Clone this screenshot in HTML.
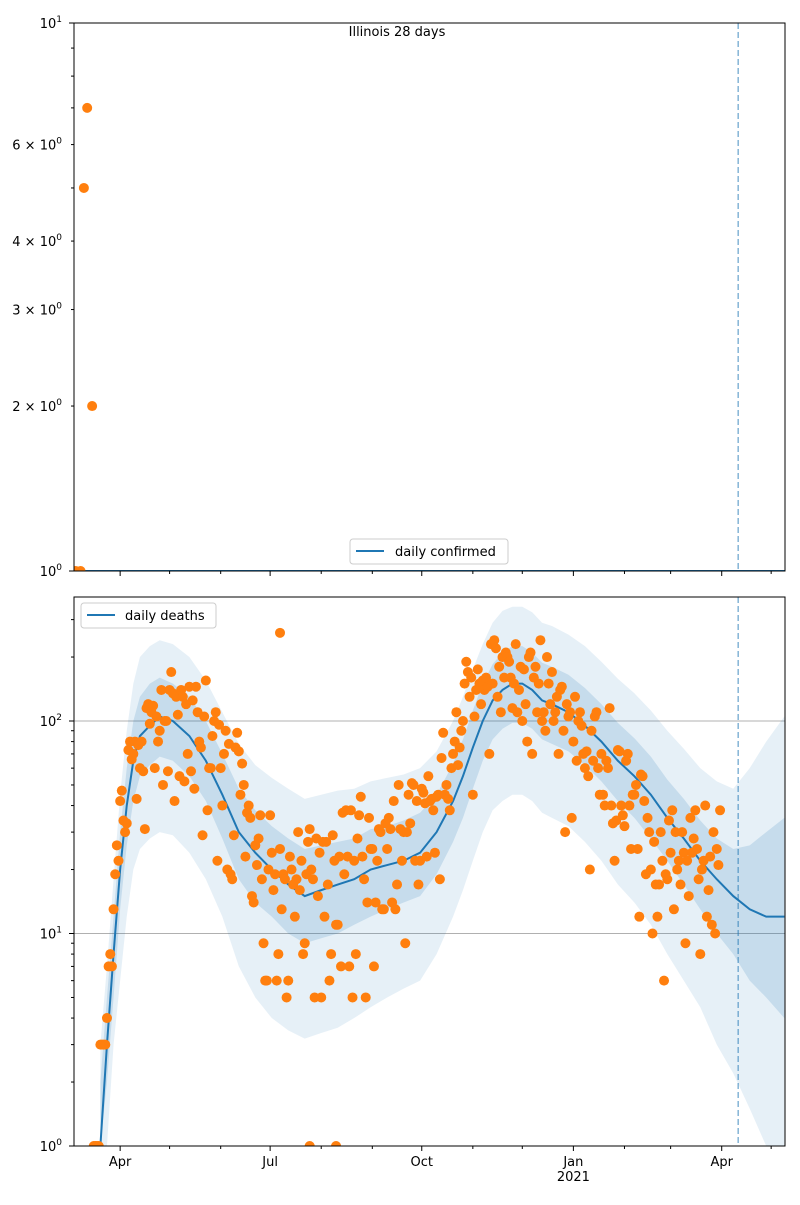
<!DOCTYPE html>
<html><head><meta charset="utf-8"><style>
body{margin:0;background:#fff;font-family:"Liberation Sans",sans-serif}
svg text{font-family:"DejaVu Sans","Liberation Sans",sans-serif;font-size:13px;fill:#000}
</style></head><body>
<svg id="c" width="800" height="1200" xmlns="http://www.w3.org/2000/svg"></svg>
<script>
const monthDays=[28,58,89,119,150,181,211,242,272,303,334,362,393,423];
const majorLabels={28:"Apr",119:"Jul",211:"Oct",303:"Jan",393:"Apr"};
const topPtDays=[1,4,6,8,11];
const topPtVals=[1,1,5,7,2];
const medDays=[16,20,24,28,32,36,40,46,52,60,70,80,90,100,110,120,130,140,150,160,170,180,190,200,210,220,230,236,242,248,254,260,266,272,278,284,290,300,310,320,330,340,350,360,370,380,390,400,410,420,431];
const medVals=[1,3,8,20,40,65,85,95,105,100,85,65,45,30,24,20,17,15,16,17,18,20,21,22,24,30,42,55,75,100,125,140,150,150,140,125,120,110,95,80,65,55,45,35,28,22,18,15,13,12,12];
const hi90=[3,7,18,45,90,150,200,225,240,230,200,155,110,78,62,54,48,43,45,47,48,52,54,56,60,72,100,130,175,230,290,330,345,345,325,290,280,255,225,190,158,135,112,90,74,60,52,48,60,80,105];
const hi50=[2,5,12,30,60,100,130,150,160,150,130,100,70,48,38,32,28,25,26,27,28,31,32,34,37,45,63,82,112,150,185,210,225,225,210,188,180,165,143,120,98,83,68,53,43,34,28,25,26,30,35];
const lo50=[1,2,5,13,26,42,55,62,68,65,55,42,28,18,14,12,10,9,9.5,10,11,12,13,14,15,19,27,35,48,65,82,92,98,98,92,82,78,72,62,52,42,35,28,22,17,13,10,8,6,5,4];
const lo90=[1,1,3,6,12,20,25,28,30,29,24,18,12,7,5,4,3.5,3.2,3.4,3.6,4,4.5,5,5.5,6,8,12,16,22,30,38,42,45,45,42,37,35,32,27,22,17,14,11,8,6,4.5,3,2.2,1.5,1,1];
const ptStart=12;
const deaths=[1,1,1,1,3,3,3,3,4,7,8,7,13,19,26,22,42,47,34,30,33,73,80,66,70,
80,43,77,60,80,58,31,115,120,97,110,118,60,105,80,90,140,50,100,100,58,140,170,135,42,130,
107,55,140,130,52,120,70,145,58,125,48,145,110,80,75,29,105,155,38,60,60,85,100,110,22,96,60,40,70,90,20,78,19,18,29,75,88,72,45,63,
50,23,37,40,35,15,14,26,21,28,36,18,9,6,6,20,36,24,16,19,6,8,25,13,19,18,5,6,23,20,
17,12,18,30,16,22,8,9,19,27,31,20,18,5,28,15,24,5,27,12,27,17,6,8,29,22,11,11,23,7,
37,19,38,23,7,38,5,22,8,28,36,44,23,18,5,14,35,25,25,7,14,22,31,30,13,13,33,25,35,31,
14,42,13,17,50,31,22,30,9,30,45,33,51,50,22,42,17,22,48,46,41,23,55,42,43,38,24,44,45,18,
67,88,45,50,43,38,60,70,80,110,62,75,90,100,150,190,170,130,160,45,105,140,175,150,120,155,140,160,145,70,
230,150,240,220,130,180,110,200,160,210,200,190,160,115,150,230,110,140,180,100,175,120,80,200,210,70,160,180,110,150,
240,100,110,90,200,150,120,170,100,110,130,70,140,145,90,30,120,105,110,35,80,130,65,100,110,95,70,60,72,55,20,90,65,105,110,60,45,70,45,40,
65,60,115,40,33,22,34,73,72,40,36,32,65,70,40,25,45,45,50,25,12,56,55,42,19,35,30,20,10,27,17,12,17,30,22,6,19,18,34,24,
38,13,30,20,22,17,30,24,9,22,15,35,24,28,38,25,18,8,20,22,40,12,16,23,11,30,10,25,21,38];
const extraDays=[125,143,159];
const extraVals=[260,1,1];
const dashDay=403;

const S=document.getElementById('c'),NS="http://www.w3.org/2000/svg";
const X0=74,X1=785,DMAX=431.4;
const x=d=>X0+d*(X1-X0)/DMAX;
const yT=v=>571-Math.log10(v)*548;
const yB=v=>1146-Math.log10(v)*212.5;
function mk(t,a,p){const e=document.createElementNS(NS,t);for(const k in a)e.setAttribute(k,a[k]);(p||S).appendChild(e);return e;}
const defs=mk('defs',{});
const cp=mk('clipPath',{id:'cb'},defs);mk('rect',{x:74,y:597,width:711,height:549},cp);
const cp2=mk('clipPath',{id:'ct'},defs);mk('rect',{x:74,y:23,width:711,height:548},cp2);

// ---- top panel
const gT=mk('g',{'clip-path':'url(#ct)'});

const tl=mk('line',{x1:74,x2:785,y1:yT(1),y2:yT(1),stroke:'#1f77b4','stroke-width':2},gT);

topPtDays.forEach((d,i)=>{const c=mk('circle',{cx:x(d),cy:yT(topPtVals[i]),r:5,fill:'#ff7f0e'},gT);
});
mk('line',{x1:x(dashDay),x2:x(dashDay),y1:23,y2:571,stroke:'#1f77b4','stroke-opacity':0.55,'stroke-width':1.5,'stroke-dasharray':'6,3'},gT);

// ---- bottom panel
const gB=mk('g',{'clip-path':'url(#cb)'});

[10,100].forEach(v=>mk('line',{x1:74,x2:785,y1:yB(v),y2:yB(v),stroke:'#b0b0b0','stroke-width':1},gB));
function band(hi,lo,op,name){let p='M';medDays.forEach((d,i)=>p+=(i?'L':'')+x(d)+','+yB(hi[i]));
for(let i=medDays.length-1;i>=0;i--)p+='L'+x(medDays[i])+','+yB(lo[i]);p+='Z';
const e=mk('path',{d:p,fill:'#1f77b4','fill-opacity':op},gB);}
band(hi90,lo90,0.11,'band-90');band(hi50,lo50,0.16,'band-50');
let lp='';medDays.forEach((d,i)=>lp+=(i?'L':'M')+x(d)+','+yB(medVals[i]));
const ml=mk('path',{d:lp,fill:'none',stroke:'#1f77b4','stroke-width':2},gB);

deaths.forEach((v,i)=>{const d=ptStart+i;if(d>DMAX)return;const c=mk('circle',{cx:x(d),cy:yB(v),r:5,fill:'#ff7f0e'},gB);
});
extraDays.forEach((d,i)=>{const c=mk('circle',{cx:x(d),cy:yB(extraVals[i]),r:5,fill:'#ff7f0e'},gB);
});
mk('line',{x1:x(dashDay),x2:x(dashDay),y1:597,y2:1146,stroke:'#1f77b4','stroke-opacity':0.55,'stroke-width':1.5,'stroke-dasharray':'6,3'},gB);

// ---- frames & ticks
[[23,571],[597,1146]].forEach(([a,b])=>mk('rect',{x:74,y:a,width:711,height:b-a,fill:'none',stroke:'#000','stroke-width':1}));
function txt(s,xx,yy,anchor,p){const t=mk('text',{x:xx,y:yy,'text-anchor':anchor||'middle'},p);t.textContent=s;return t;}
// top y ticks
for(let v=1;v<=10;v++){const yy=yT(v);const major=(v==1||v==10);mk('line',{x1:74,x2:74-(major?5:3),y1:yy,y2:yy,stroke:'#000'});}
const tt=[[10,'10','1'],[6,'6 × 10','0'],[4,'4 × 10','0'],[3,'3 × 10','0'],[2,'2 × 10','0'],[1,'10','0']];
tt.forEach(([v,b,e])=>{const t=txt(b,62,yT(v)+5,'end');const s=mk('tspan',{dy:-6,'font-size':9},t);s.textContent=e;
});
// bottom y ticks
for(let dec=0;dec<3;dec++)for(let m=1;m<10;m++){const v=m*Math.pow(10,dec);if(yB(v)<597)continue;mk('line',{x1:74,x2:74-(m==1?5:3),y1:yB(v),y2:yB(v),stroke:'#000'});}
[[1,'0'],[10,'1'],[100,'2']].forEach(([v,e])=>{const t=txt('10',62,yB(v)+5,'end');const s=mk('tspan',{dy:-6,'font-size':9},t);s.textContent=e;
});
// x ticks
monthDays.forEach(d=>{const xx=x(d);const maj=d in majorLabels;
[571,1146].forEach(yy=>mk('line',{x1:xx,x2:xx,y1:yy,y2:yy+(maj?5:3),stroke:'#000'}));
if(maj){const t=txt(majorLabels[d],xx,1166);}});
txt('2021',x(303),1181);
// title
const ti=txt('Illinois 28 days',397,36);ti.setAttribute('font-size','15');
// legends
const l1=mk('g',{});
mk('rect',{x:350,y:539,width:158,height:25,rx:3,fill:'#fff','fill-opacity':0.8,stroke:'#ccc'},l1);
mk('line',{x1:356,x2:384,y1:551,y2:551,stroke:'#1f77b4','stroke-width':2},l1);txt('daily confirmed',395,556,'start',l1);
const l2=mk('g',{});
mk('rect',{x:81,y:603,width:135,height:25,rx:3,fill:'#fff','fill-opacity':0.8,stroke:'#ccc'},l2);
mk('line',{x1:87,x2:115,y1:615,y2:615,stroke:'#1f77b4','stroke-width':2},l2);txt('daily deaths',125,620,'start',l2);
</script>
</body></html>
